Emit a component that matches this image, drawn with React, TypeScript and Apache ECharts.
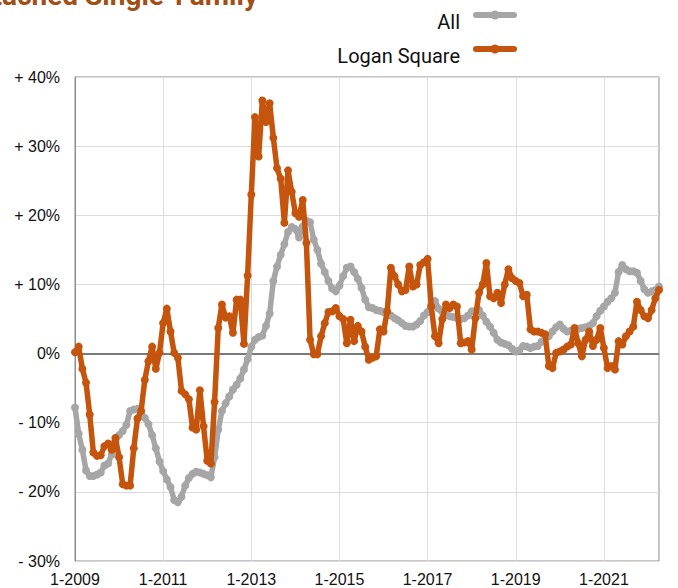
import React, { useEffect, useRef } from "react";
import * as echarts from "echarts";

const startYear = 2009;
const monthCount = 160;
const categories: string[] = Array.from({ length: monthCount }, (_, i) => `${(i % 12) + 1}-${startYear + Math.floor(i / 12)}`);

const allValues = [
  -7.8, -11.6, -13.9, -16.9, -17.7, -17.7, -17.5, -17.2, -16.2, -15.9, -14.6, -12.8,
  -11.8, -11.2, -10.3, -8.3, -8.1, -8.0, -8.6, -9.3, -10.2, -11.8, -13.7, -15.6,
  -17.0, -18.2, -19.3, -21.2, -21.5, -20.7, -19.1, -18.0, -17.4, -17.1, -17.2, -17.4,
  -17.6, -17.9, -15.0, -11.0, -8.3, -7.2, -6.2, -5.2, -4.5, -3.6, -2.3, -0.8,
  1.0, 2.0, 2.4, 2.6, 4.0, 5.8, 10.5, 12.6, 14.3, 15.8, 17.6, 18.3,
  18.0, 16.8, 18.4, 19.2, 19.0, 16.5, 15.0, 13.0, 11.8, 10.5, 9.4, 9.0,
  9.8, 11.2, 12.4, 12.6, 11.8, 10.8, 9.5, 7.8, 6.7, 6.6, 6.3, 6.2,
  6.0, 5.9, 5.5, 5.1, 4.8, 4.4, 4.0, 3.9, 3.9, 4.2, 4.7, 5.5,
  6.0, 7.0, 7.6, 6.5, 6.0, 5.6, 5.4, 5.3, 5.1, 5.0, 5.1, 5.5,
  6.1, 6.2, 6.3, 5.5, 4.6, 3.9, 3.0, 2.0, 1.6, 1.4, 1.2, 0.7,
  0.3, 0.5, 1.1, 1.0, 0.8, 1.0, 1.1, 1.7, 2.2, 2.5, 3.2, 3.8,
  4.2, 3.6, 3.2, 3.3, 3.5, 3.6, 3.7, 3.8, 4.0, 4.4, 5.4, 6.2,
  6.8, 7.5, 8.0, 8.8, 11.8, 12.8, 12.2, 11.9, 11.9, 11.7, 10.5, 9.3,
  8.8, 9.0, 9.2, 9.7,
];

const loganValues = [
  0.2, 1.0, -2.2, -4.2, -8.8, -14.3, -14.8, -14.7, -13.4, -13.0, -13.9, -12.2,
  -15.0, -18.9, -19.1, -19.1, -13.7, -9.4, -8.3, -3.8, -1.1, 1.0, -2.2, 0.1,
  4.4, 6.5, 3.2, 0.1, -0.6, -5.4, -5.9, -6.6, -10.7, -11.0, -5.3, -10.5,
  -15.5, -15.9, -7.0, 3.7, 7.1, 5.2, 5.4, 3.0, 7.8, 7.8, 1.4, 11.3,
  23.0, 34.2, 28.5, 36.6, 33.5, 36.2, 31.2, 26.8, 25.3, 18.9, 26.5, 23.4,
  20.3, 19.8, 22.2, 16.0, 2.0, -0.1, -0.1, 2.5, 4.4, 6.0, 6.1, 6.6,
  5.4, 5.0, 1.5, 4.9, 1.8, 4.0, 3.2, 1.0, -0.9, -0.6, -0.4, 3.5,
  3.2, 6.1, 12.4, 11.2, 10.0, 9.0, 9.2, 12.6, 9.7, 10.0, 12.8, 13.2,
  13.7, 6.8, 2.5, 1.5, 5.0, 7.1, 6.6, 7.1, 6.8, 1.5, 1.6, 1.8,
  0.6, 5.1, 8.8, 10.0, 13.1, 8.3, 8.0, 8.8, 7.3, 10.0, 12.2, 10.9,
  10.5, 10.2, 8.3, 8.5, 3.5, 3.2, 3.2, 3.0, 2.8, -1.8, -2.1, 0.1,
  0.3, 0.6, 1.0, 1.3, 3.7, 1.5, -0.4, 2.0, 3.2, 1.1, 2.0, 3.7,
  0.8, -2.1, -1.8, -2.3, 1.8, 1.3, 2.5, 3.2, 3.9, 7.5, 6.3, 5.4,
  5.1, 6.3, 8.0, 9.2,
];

const seriesNames = ["All", "Logan Square"];
const seriesColors = ["#a6a6a6", "#c5540c"];
const titleText = "Attached Single-Family";

function formatPct(v: number): string {
  if (v > 0) return `+ ${v}%`;
  if (v < 0) return `- ${Math.abs(v)}%`;
  return "0%";
}

export default function App() {
  const ref = useRef<HTMLDivElement>(null);
  useEffect(() => {
    if (!ref.current) return;
    const chart = echarts.init(ref.current, null, { renderer: "svg" });
    const font = "Liberation Sans, Arial, Helvetica, sans-serif";
    const legendItems: any[] = [];
    seriesNames.forEach((name, i) => {
      const cy = 15 + i * 34;
      legendItems.push(
        {
          type: "text",
          x: 460,
          y: cy + 7,
          style: {
            text: name,
            fontSize: 20,
            fontFamily: "Roboto, sans-serif",
            fill: "#111",
            align: "right",
            verticalAlign: "middle",
          },
        },
        {
          type: "line",
          shape: { x1: 476, y1: cy, x2: 514, y2: cy },
          style: { stroke: seriesColors[i], lineWidth: 6, lineCap: "round" },
        },
        {
          type: "circle",
          shape: { cx: 495, cy, r: 4.5 },
          style: { fill: seriesColors[i] },
        }
      );
    });
    chart.setOption({
      animation: false,
      textStyle: { fontFamily: font },
      graphic: [
        {
          type: "text",
          right: 420,
          top: -19,
          style: {
            text: titleText,
            fontSize: 28,
            fontWeight: "bold",
            fontFamily: "Liberation Sans Narrow, Roboto, sans-serif",
            fill: "#a24f15",
          },
        },
        ...legendItems,
      ],
      grid: {
        left: 75,
        right: 19,
        top: 77,
        bottom: 27,
        show: true,
        borderColor: "#8c8c8c",
        borderWidth: 1,
      },
      xAxis: {
        type: "category",
        data: categories,
        boundaryGap: false,
        axisLine: { show: false },
        axisTick: { show: false },
        axisLabel: {
          interval: (i: number) => i % 24 === 0,
          fontSize: 16,
          color: "#111",
          margin: 10,
        },
        splitLine: {
          show: true,
          interval: (i: number) => i % 24 === 0,
          lineStyle: { color: "#dcdcdc", width: 1 },
        },
      },
      yAxis: {
        type: "value",
        min: -30,
        max: 40,
        interval: 10,
        axisLine: { show: true, lineStyle: { color: "#8c8c8c", width: 1 } },
        axisTick: { show: false },
        axisLabel: { formatter: formatPct, fontSize: 16, color: "#111", margin: 15 },
        splitLine: { show: true, lineStyle: { color: "#dcdcdc", width: 1 } },
      },
      series: [
        {
          name: seriesNames[0],
          type: "line",
          data: allValues,
          symbol: "circle",
          symbolSize: 8,
          showSymbol: true,
          showAllSymbol: true,
          lineStyle: { width: 5.5, color: seriesColors[0] },
          itemStyle: { color: seriesColors[0] },
          markLine: {
            silent: true,
            symbol: "none",
            label: { show: false },
            lineStyle: { color: "#7a7a7a", width: 2, type: "solid" },
            data: [{ yAxis: 0 }],
            z: 1,
          },
          z: 2,
        },
        {
          name: seriesNames[1],
          type: "line",
          data: loganValues,
          symbol: "circle",
          symbolSize: 8,
          showSymbol: true,
          showAllSymbol: true,
          lineStyle: { width: 5.5, color: seriesColors[1] },
          itemStyle: { color: seriesColors[1] },
          z: 3,
        },
      ],
    });
    return () => chart.dispose();
  }, []);
  return <div ref={ref} style={{ width: 678, height: 588, position: "absolute", left: 0, top: 0 }} />;
}
